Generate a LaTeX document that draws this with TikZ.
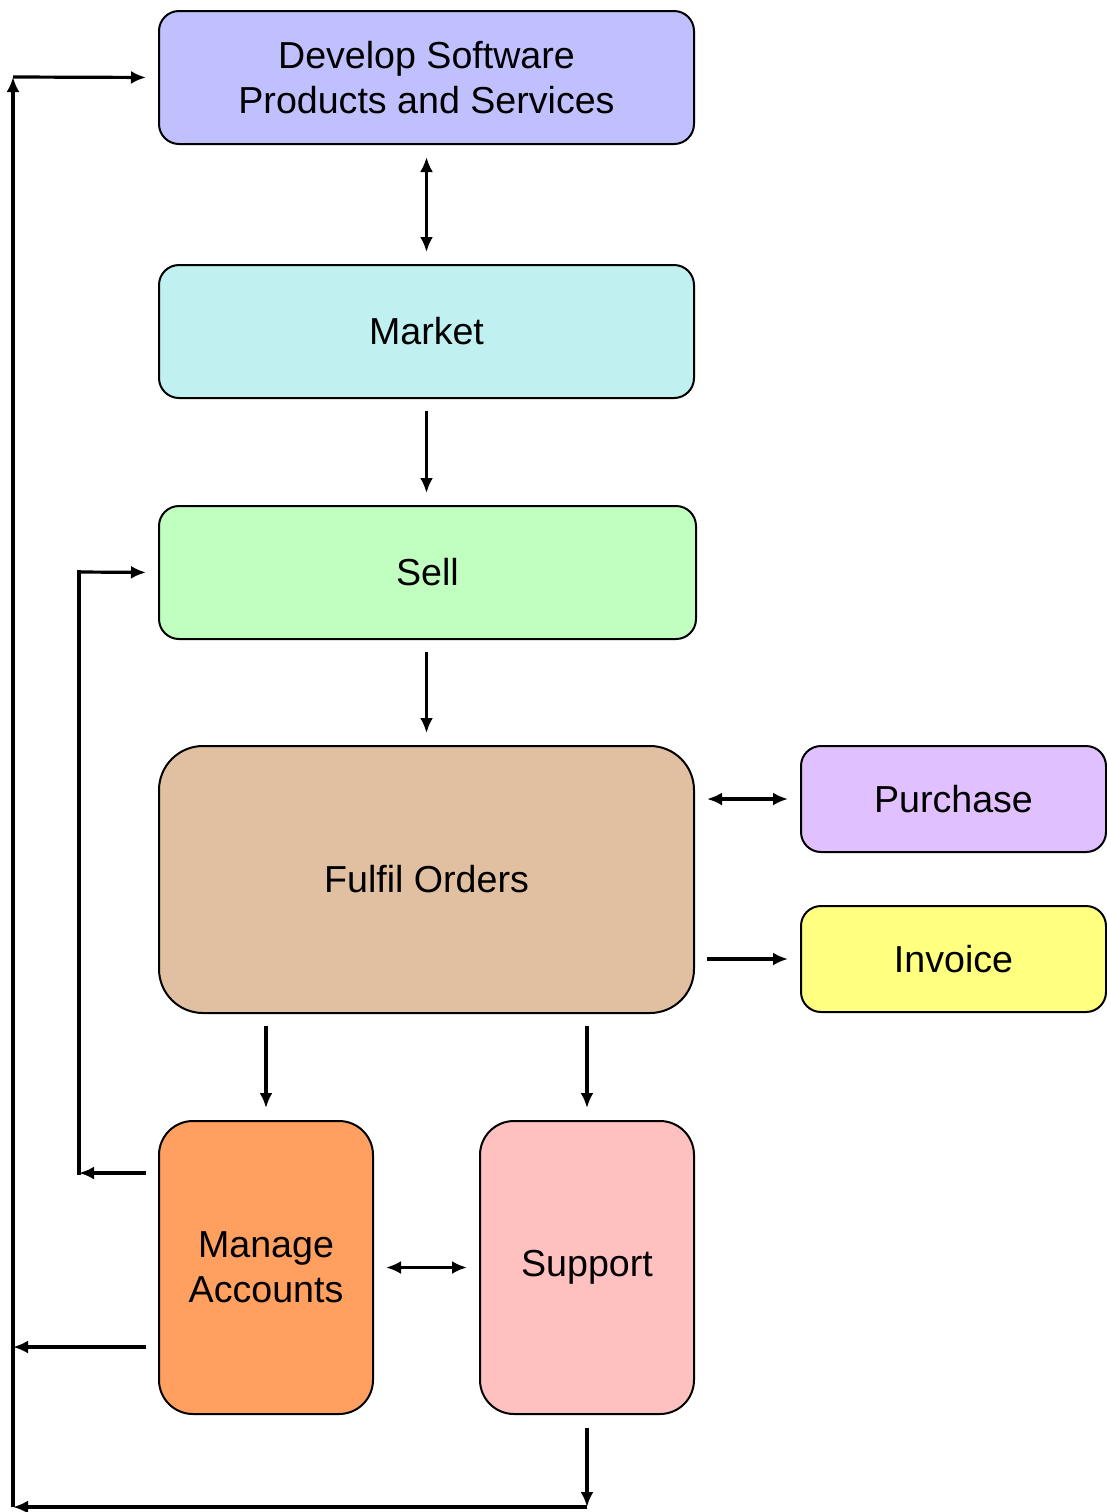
\documentclass[tikz,border=0pt]{standalone}
\usepackage{fontspec}
\setmainfont{Liberation Sans}
\usetikzlibrary{arrows.meta}
\definecolor{cdev}{HTML}{C0C0FF}
\definecolor{cmkt}{HTML}{C0F0F0}
\definecolor{csell}{HTML}{C0FFC0}
\definecolor{cful}{HTML}{E0C0A0}
\definecolor{cpur}{HTML}{E0C0FF}
\definecolor{cinv}{HTML}{FFFF80}
\definecolor{cman}{HTML}{FFA060}
\definecolor{csup}{HTML}{FFC0C0}
\begin{document}
\begin{tikzpicture}[x=0.5pt,y=-0.5pt,
  box/.style={draw=black, line width=1pt, inner sep=0pt, outer sep=0pt, align=center,
    font=\fontsize{18.8pt}{22.5pt}\selectfont},
  conn/.style={line width=1.6pt, -{Latex[length=7.5pt,width=6.5pt]}},
  bconn/.style={line width=1.6pt, {Latex[length=7.5pt,width=6.5pt]}-{Latex[length=7.5pt,width=6.5pt]}},
  plain/.style={line width=1.6pt, line cap=rect},
  gap/.style={shorten <=6.5pt, shorten >=6.5pt}]
\useasboundingbox (0,0) rectangle (1107,1512);
\node[box, fill=cdev, rounded corners=10pt, minimum width=267.5pt, minimum height=66.5pt] (dev) at (426.5,77.5) {Develop Software\\Products and Services};
\node[box, fill=cmkt, rounded corners=10pt, minimum width=267.5pt, minimum height=66.5pt] (mkt) at (426.5,331.5) {Market};
\node[box, fill=csell, rounded corners=10pt, minimum width=268.5pt, minimum height=66.5pt] (sell) at (427.5,572.5) {Sell};
\node[box, fill=cful, rounded corners=22pt, minimum width=267.5pt, minimum height=133.5pt] (ful) at (426.5,879.5) {Fulfil Orders};
\node[box, fill=cpur, rounded corners=10pt, minimum width=152.5pt, minimum height=53pt] (pur) at (953.5,799) {Purchase};
\node[box, fill=cinv, rounded corners=10pt, minimum width=152.5pt, minimum height=53pt] (inv) at (953.5,959) {Invoice};
\node[box, fill=cman, rounded corners=17pt, minimum width=107pt, minimum height=146.5pt] (man) at (266,1267.5) {Manage\\Accounts};
\node[box, fill=csup, rounded corners=17pt, minimum width=107pt, minimum height=146.5pt] (sup) at (587,1267.5) {Support};

\coordinate (c1) at (13,1507);
\coordinate (c2) at (13,77);
\coordinate (lm) at (13,1347);
\coordinate (k1) at (79,1173);
\coordinate (k2) at (79,572);

\draw[bconn, gap] (dev.south) -- (mkt.north);
\draw[conn, gap] (mkt.south) -- (mkt.south |- sell.north);
\draw[conn, gap] (mkt.south |- sell.south) -- (mkt.south |- ful.north);
\draw[bconn, gap] (ful.east |- pur.west) -- (pur.west);
\draw[conn, gap] (ful.east |- inv.west) -- (inv.west);
\draw[conn, gap] (ful.south -| man.north) -- (man.north);
\draw[conn, gap] (ful.south -| sup.north) -- (sup.north);
\draw[bconn, gap] (man.east) -- (sup.west);

\draw[conn, shorten <=7pt] (sup.south) -- (sup.south |- c1);
\draw[conn] (sup.south |- c1) -- (c1);
\draw[conn] (c1) -- (c2);
\draw[conn, shorten >=6.5pt] (c2) -- (dev.west);
\draw[conn, shorten <=6.5pt] (man.west |- lm) -- (lm);

\draw[conn, shorten <=6.5pt] (man.west |- k1) -- (k1);
\draw[plain] (k1) -- (k2);
\draw[conn, shorten >=6.5pt] (k2) -- (sell.west);
\end{tikzpicture}
\end{document}
